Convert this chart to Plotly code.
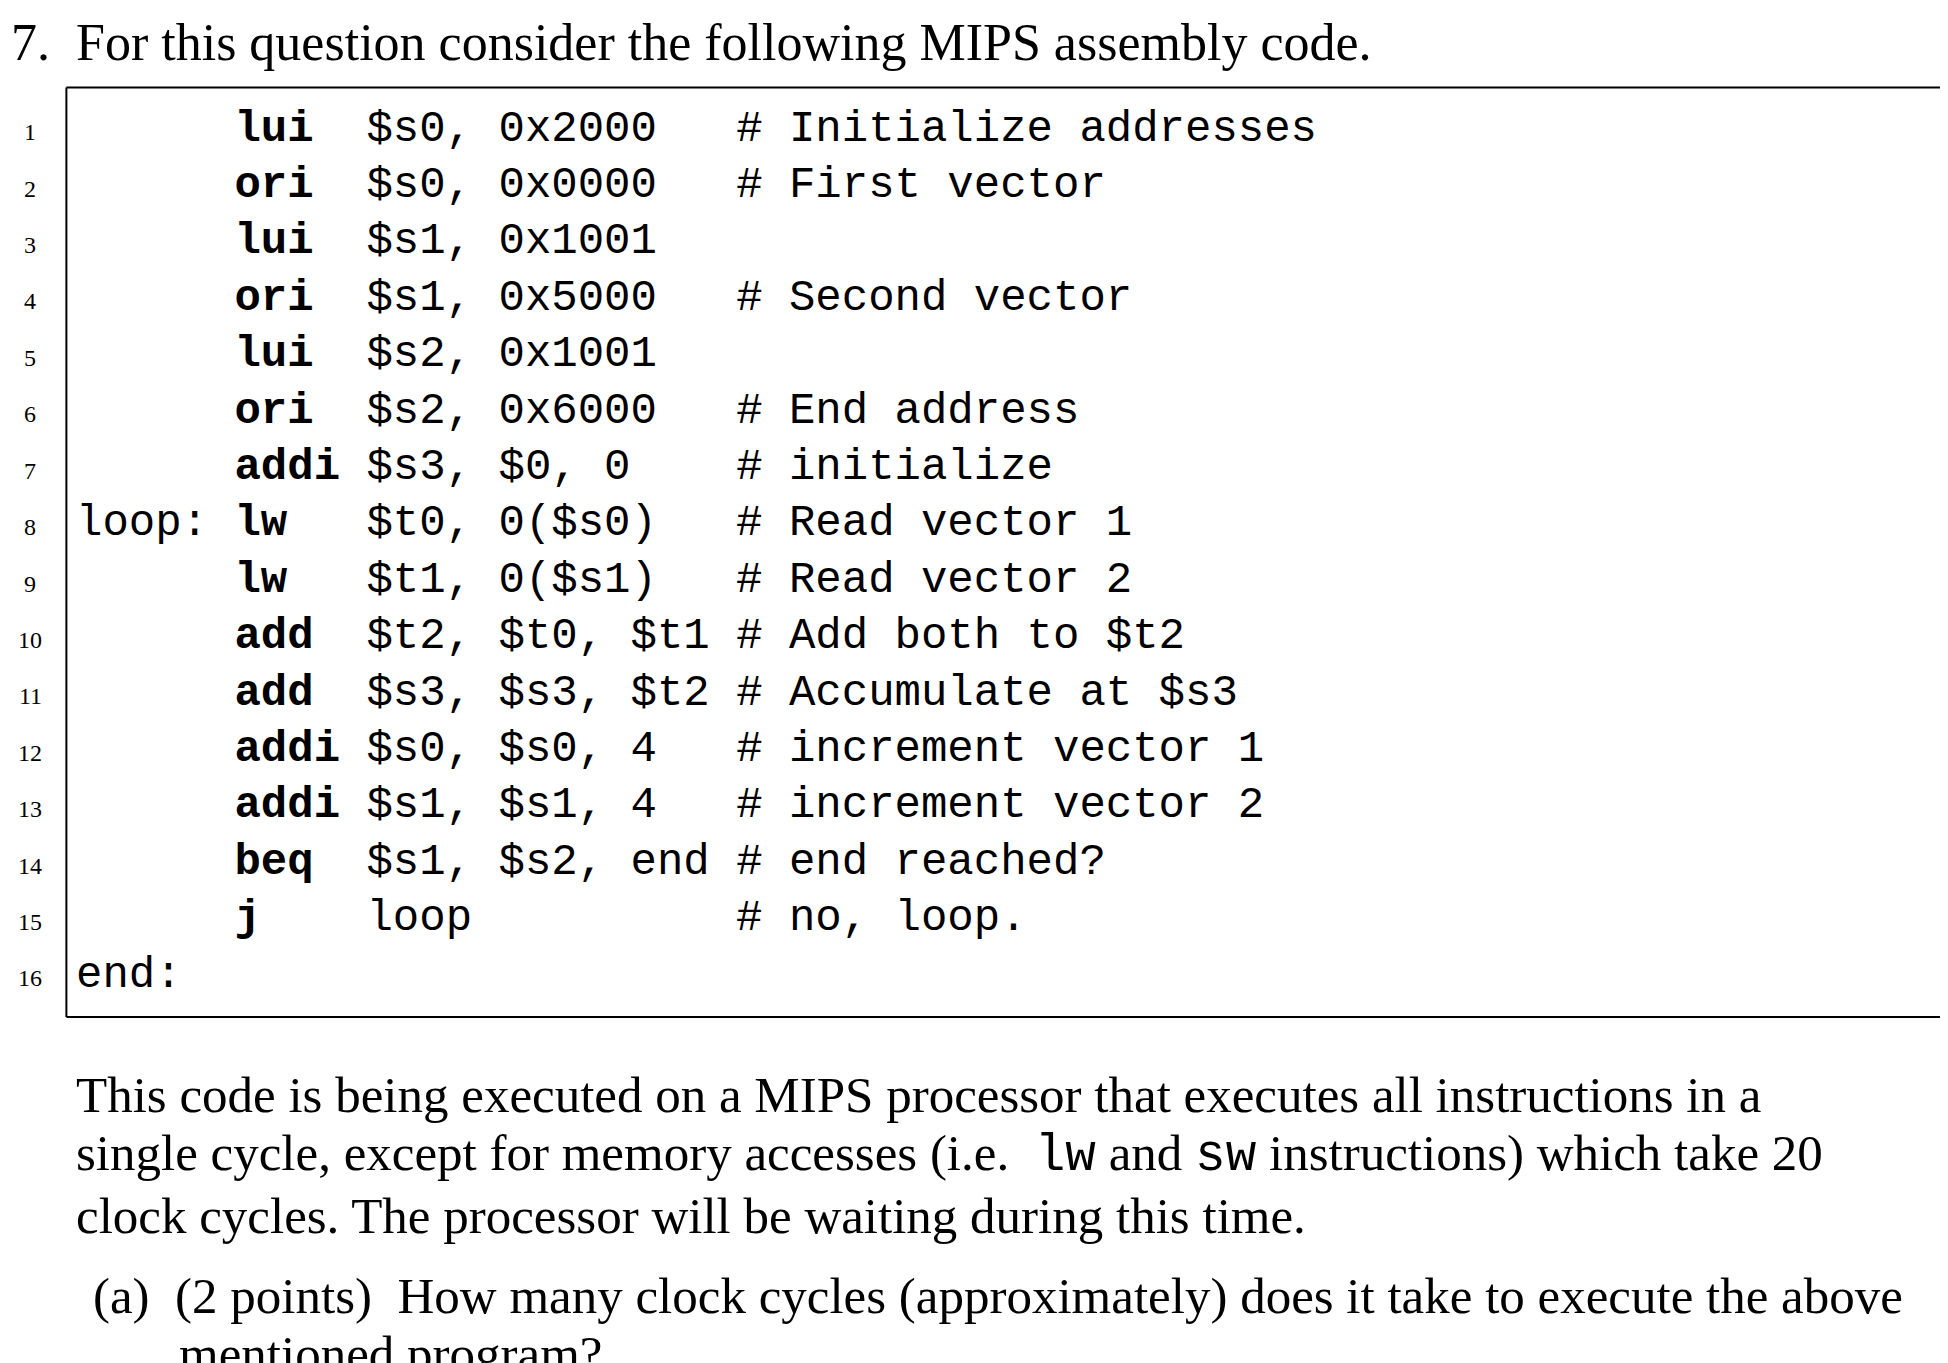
import plotly.graph_objects as go

labels = ["", "", "", "", "", "", "", "loop:", "", "", "", "", "", "", "", "end:"]
mnemonics = ["lui", "ori", "lui", "ori", "lui", "ori", "addi", "lw", "lw",
             "add", "add", "addi", "addi", "beq", "j", ""]
operands = ["$s0, 0x2000", "$s0, 0x0000", "$s1, 0x1001", "$s1, 0x5000",
            "$s2, 0x1001", "$s2, 0x6000", "$s3, $0, 0", "$t0, 0($s0)",
            "$t1, 0($s1)", "$t2, $t0, $t1", "$s3, $s3, $t2", "$s0, $s0, 4",
            "$s1, $s1, 4", "$s1, $s2, end", "loop", ""]
comments = ["# Initialize addresses", "# First vector", "", "# Second vector",
            "", "# End address", "# initialize", "# Read vector 1",
            "# Read vector 2", "# Add both to $t2", "# Accumulate at $s3",
            "# increment vector 1", "# increment vector 2", "# end reached?",
            "# no, loop.", ""]

heading = "7.  For this question consider the following MIPS assembly code."
para = [
    "This code is being executed on a MIPS processor that executes all instructions in a",
    "single cycle, except for memory accesses (i.e.  <span style='font-family:Liberation Mono'>lw</span> and <span style='font-family:Liberation Mono'>sw</span> instructions) which take 20",
    "clock cycles. The processor will be waiting during this time.",
]
question = ["(a)  (2 points)  How many clock cycles (approximately) does it take to execute the above",
            "mentioned program?"]

NB = "\u00a0"
serif = "Liberation Serif"
mono = "Liberation Mono"

fig = go.Figure()
ann = []

def add(x, y, text, size, family, anchor="left"):
    ann.append(dict(x=x, y=y, text=text, showarrow=False, xanchor=anchor,
                    yanchor="middle", borderpad=0,
                    font=dict(size=size, family=family, color="black")))

add(2, 28, heading.replace(" ", NB, 2), 52, serif)

y0, dy = 97, 45.4
for i in range(len(mnemonics)):
    y = y0 + i * dy
    add(18, y + 3, str(i + 1), 24, serif, "center")
    line = labels[i].ljust(6).replace(" ", NB)
    line += "<b>" + mnemonics[i] + "</b>" + NB * (5 - len(mnemonics[i]))
    line += operands[i].ljust(14).replace(" ", NB)
    line += comments[i].replace(" ", NB)
    add(54, y, line, 44, mono)

for j, t in enumerate(para):
    add(54, 875 + j * 48.5, t, 51, serif)
add(68, 1037, question[0], 51, serif)
add(137, 1083, question[1], 51, serif)

fig.add_shape(type="line", x0=47, x1=1580, y0=64, y1=64, line=dict(color="black", width=2))
fig.add_shape(type="line", x0=47, x1=1580, y0=812, y1=812, line=dict(color="black", width=2))
fig.add_shape(type="line", x0=47, x1=47, y0=64, y1=812, line=dict(color="black", width=2))

fig.update_layout(
    width=1948, height=1363, margin=dict(l=0, r=0, t=0, b=0),
    paper_bgcolor="white", plot_bgcolor="white", annotations=ann,
    xaxis=dict(range=[0, 1568], visible=False),
    yaxis=dict(range=[1097, 0], visible=False),
    showlegend=False,
)
fig.write_html("out.html")
